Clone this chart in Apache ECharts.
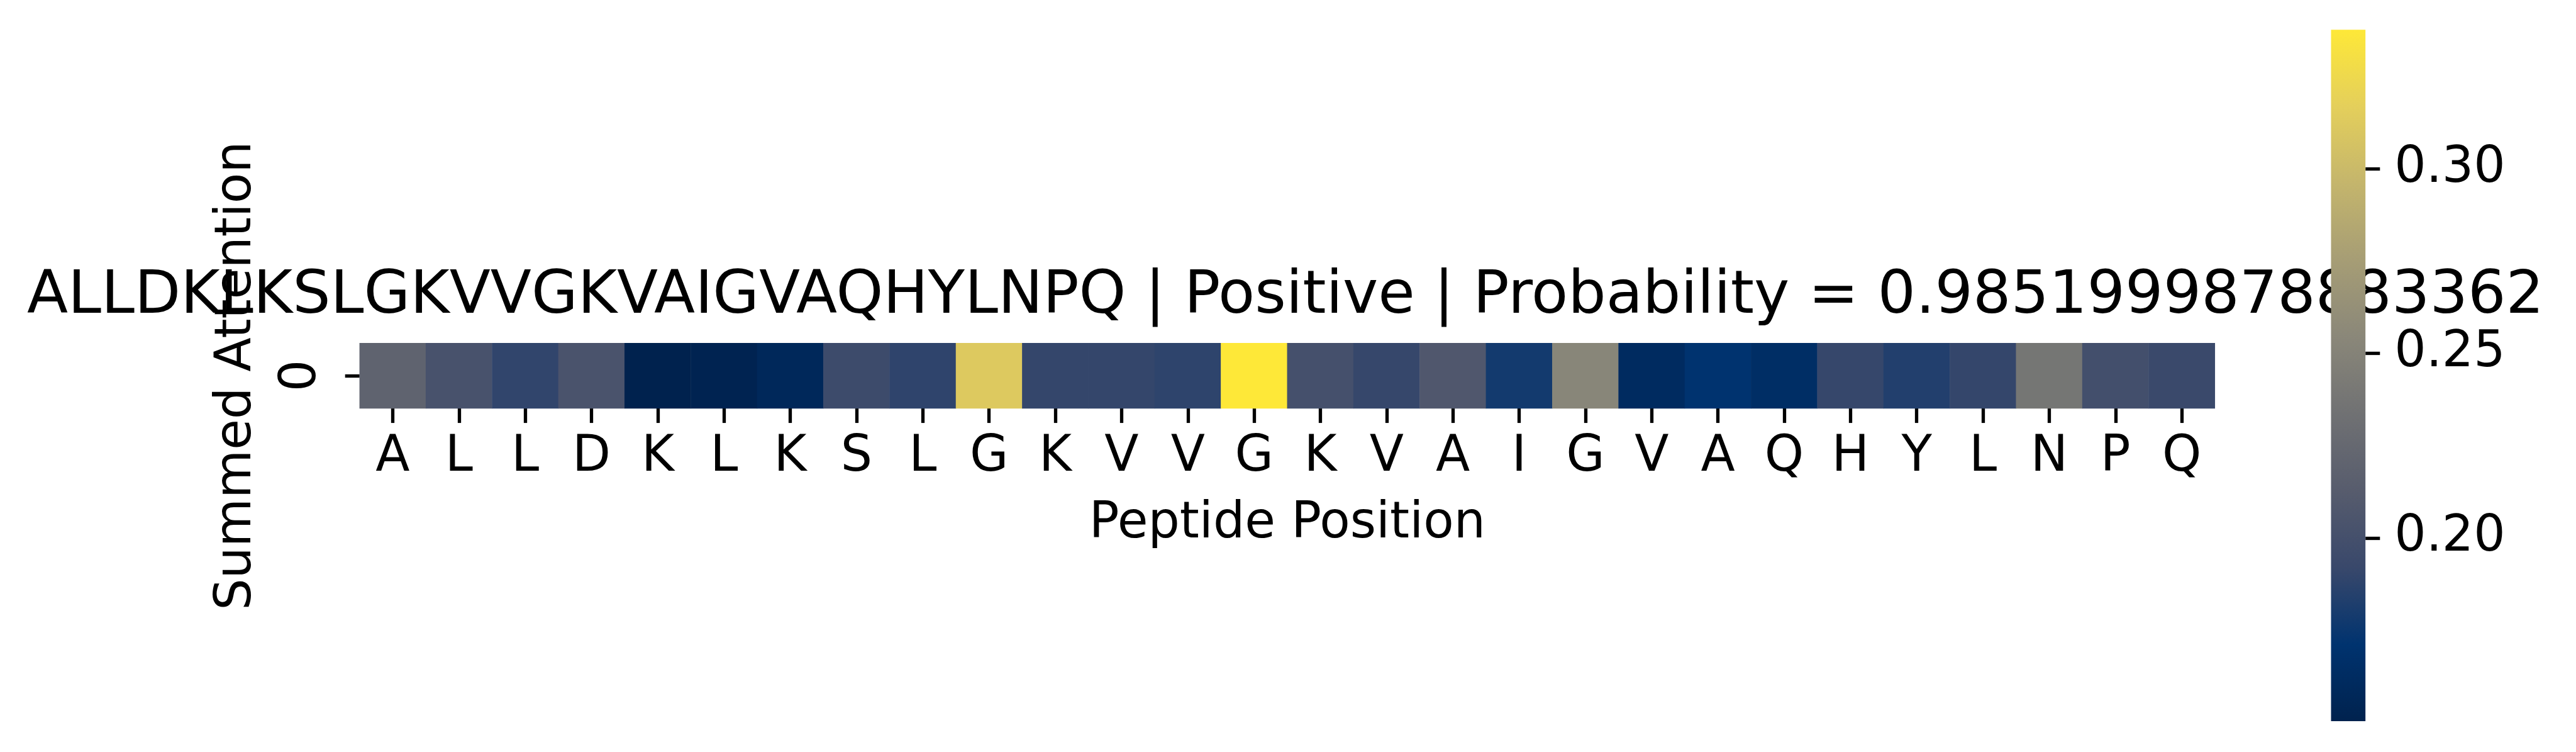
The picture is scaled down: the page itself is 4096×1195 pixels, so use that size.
<!DOCTYPE html>
<html>
<head>
<meta charset="utf-8">
<script src="https://cdn.jsdelivr.net/npm/echarts@6/dist/echarts.min.js"></script>
<style>
html,body{margin:0;padding:0;background:#fff;}
#chart{width:4096px;height:1195px;}
</style>
</head>
<body>
<div id="chart"></div>
<script>
const residues = ['A','L','L','D','K','L','K','S','L','G','K','V','V','G','K','V','A','I','G','V','A','Q','H','Y','L','N','P','Q'];
const attention = [0.2195, 0.2024, 0.1890, 0.2038, 0.1504, 0.1520, 0.1580, 0.1950, 0.1883, 0.3123,
                   0.1900, 0.1900, 0.1880, 0.3376, 0.2000, 0.1910, 0.2080, 0.1780, 0.2530, 0.1616,
                   0.1710, 0.1650, 0.1910, 0.1835, 0.1900, 0.2380, 0.1990, 0.1930];
const rowLabels = ['0'];
const colorbarTicks = [0.20, 0.25, 0.30];
const titleText = 'ALLDKLKSLGKVVGKVAIGVAQHYLNPQ | Positive | Probability = 0.9851999878883362';
const xAxisTitle = 'Peptide Position';
const yAxisTitle = 'Summed Attention';
const cividis = ['#00224e','#00336f','#39486b','#575c6d','#707173','#8a8779','#a69d75','#c4b56c','#e4cf5b','#fee838'];

const vmin = Math.min(...attention);
const vmax = Math.max(...attention);
const S = 0.793;
const FONT = 'DejaVu Sans';
const fs = 100 * S;

const heatData = attention.map((v, i) => [i, 0, v]);
const gradStops = cividis.map((c, i) => ({offset: i / (cividis.length - 1), color: c}));

const chart = echarts.init(document.getElementById('chart'), null, {renderer: 'canvas'});
chart.setOption({
  animation: false,
  backgroundColor: '#ffffff',
  title: {
    text: titleText,
    left: 2044,
    top: 424.8,
    textAlign: 'center',
    padding: 0,
    z: 1,
    textStyle: {fontFamily: FONT, fontSize: 120 * S, fontWeight: 'normal', color: '#000'}
  },
  grid: [
    {left: 571.8, top: 545.2, width: 2950, height: 103.8, containLabel: false},
    {left: 3706.5, top: 47.3, width: 54.7, height: 1098.6, show: true, borderWidth: 0,
     backgroundColor: new echarts.graphic.LinearGradient(0, 1, 0, 0, gradStops), z: 10}
  ],
  xAxis: [
    {type: 'category', gridIndex: 0, data: residues,
     axisLine: {show: false},
     axisTick: {show: true, alignWithLabel: true, length: 23.1, lineStyle: {width: 5.3, color: '#000'}},
     axisLabel: {fontFamily: FONT, fontSize: fs, color: '#000', margin: 39, interval: 0},
     name: xAxisTitle, nameLocation: 'middle', nameGap: 145,
     nameTextStyle: {fontFamily: FONT, fontSize: fs, color: '#000'},
     splitLine: {show: false}},
    {type: 'category', gridIndex: 1, data: ['c'], show: false}
  ],
  yAxis: [
    {type: 'category', gridIndex: 0, data: rowLabels,
     axisLine: {show: false},
     axisTick: {show: true, alignWithLabel: true, length: 23.1, lineStyle: {width: 5.3, color: '#000'}},
     axisLabel: {fontFamily: FONT, fontSize: fs, color: '#000', margin: 52, rotate: 90},
     name: yAxisTitle, nameLocation: 'middle', nameGap: 154.6, nameRotate: 90,
     nameTextStyle: {fontFamily: FONT, fontSize: fs, color: '#000'},
     splitLine: {show: false}},
    {type: 'value', gridIndex: 1, position: 'right', min: vmin, max: vmax,
     axisLine: {show: false},
     splitLine: {show: false},
     axisTick: {show: true, length: 23.1, customValues: colorbarTicks, lineStyle: {width: 5.3, color: '#000'}},
     axisLabel: {show: true, customValues: colorbarTicks, margin: 46, fontFamily: FONT, fontSize: fs, color: '#000',
                 formatter: v => Number(v).toFixed(2)}}
  ],
  visualMap: {
    show: false, type: 'continuous', min: vmin, max: vmax, dimension: 2, seriesIndex: 0,
    inRange: {color: cividis}
  },
  series: [{
    type: 'heatmap', xAxisIndex: 0, yAxisIndex: 0, data: heatData,
    itemStyle: {borderWidth: 0},
    emphasis: {disabled: true}
  }]
});
</script>
</body>
</html>
